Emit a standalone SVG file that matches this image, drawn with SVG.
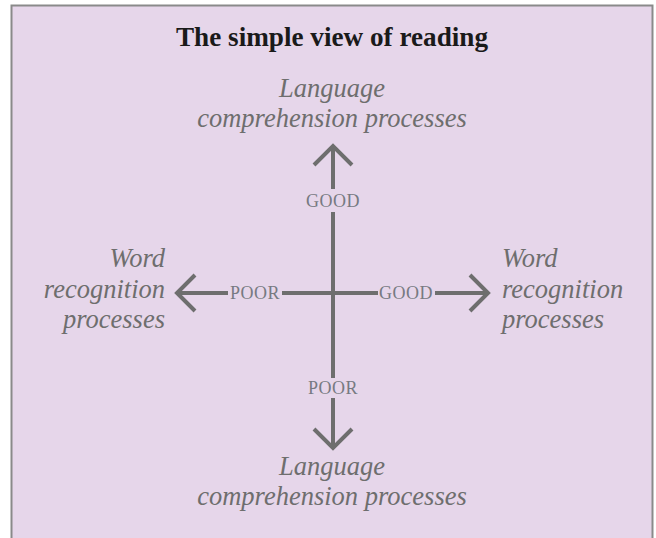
<svg xmlns="http://www.w3.org/2000/svg" width="656" height="538" viewBox="0 0 656 538">
<style>
.title{font-family:"Liberation Serif",serif;font-weight:bold;font-size:27px;fill:#1a1a1a;text-anchor:middle}
.lab{font-family:"Liberation Serif",serif;font-style:italic;font-size:26.5px;fill:#6e6e6e}
.sc{font-family:"Liberation Serif",serif;font-size:18px;fill:#777a82;text-anchor:middle;letter-spacing:0.5px}
.ln{stroke:#6e6e6e;stroke-width:4;fill:none}
.ah{stroke:#6e6e6e;stroke-width:4;fill:none;stroke-linecap:butt;stroke-linejoin:miter}
</style>
<rect x="0" y="0" width="656" height="538" fill="#ffffff"/>
<rect x="11.5" y="5.5" width="641" height="540" fill="#e6d6ea" stroke="#8a8a8a" stroke-width="2"/>
<text class="title" x="332" y="46" textLength="312" lengthAdjust="spacingAndGlyphs">The simple view of reading</text>
<g id="top">
<text class="lab" x="332" y="97" text-anchor="middle">Language</text>
<text class="lab" x="332" y="127" text-anchor="middle">comprehension processes</text>
</g>
<g id="bottom">
<text class="lab" x="332" y="475" text-anchor="middle">Language</text>
<text class="lab" x="332" y="505" text-anchor="middle">comprehension processes</text>
</g>
<g id="left">
<text class="lab" x="165" y="267" text-anchor="end">Word</text>
<text class="lab" x="165" y="298" text-anchor="end">recognition</text>
<text class="lab" x="165" y="328" text-anchor="end">processes</text>
</g>
<g id="right">
<text class="lab" x="502" y="267">Word</text>
<text class="lab" x="502" y="298">recognition</text>
<text class="lab" x="502" y="328">processes</text>
</g>
<g id="connectors">
<line class="ln" x1="333" y1="148" x2="333" y2="189"/>
<line class="ln" x1="333" y1="212" x2="333" y2="378"/>
<line class="ln" x1="333" y1="398" x2="333" y2="446"/>
<line class="ln" x1="179" y1="293" x2="228" y2="293"/>
<line class="ln" x1="282" y1="293" x2="378" y2="293"/>
<line class="ln" x1="435" y1="293" x2="486" y2="293"/>
<polyline class="ah" points="314,165 333,146 352,165"/>
<polyline class="ah" points="314,429 333,448 352,429"/>
<polyline class="ah" points="195,275 177,293 195,311"/>
<polyline class="ah" points="470,275 488,293 470,311"/>
<text class="sc" x="333" y="207">GOOD</text>
<text class="sc" x="333" y="394">POOR</text>
<text class="sc" x="255" y="299">POOR</text>
<text class="sc" x="406" y="299">GOOD</text>
</g>
</svg>
